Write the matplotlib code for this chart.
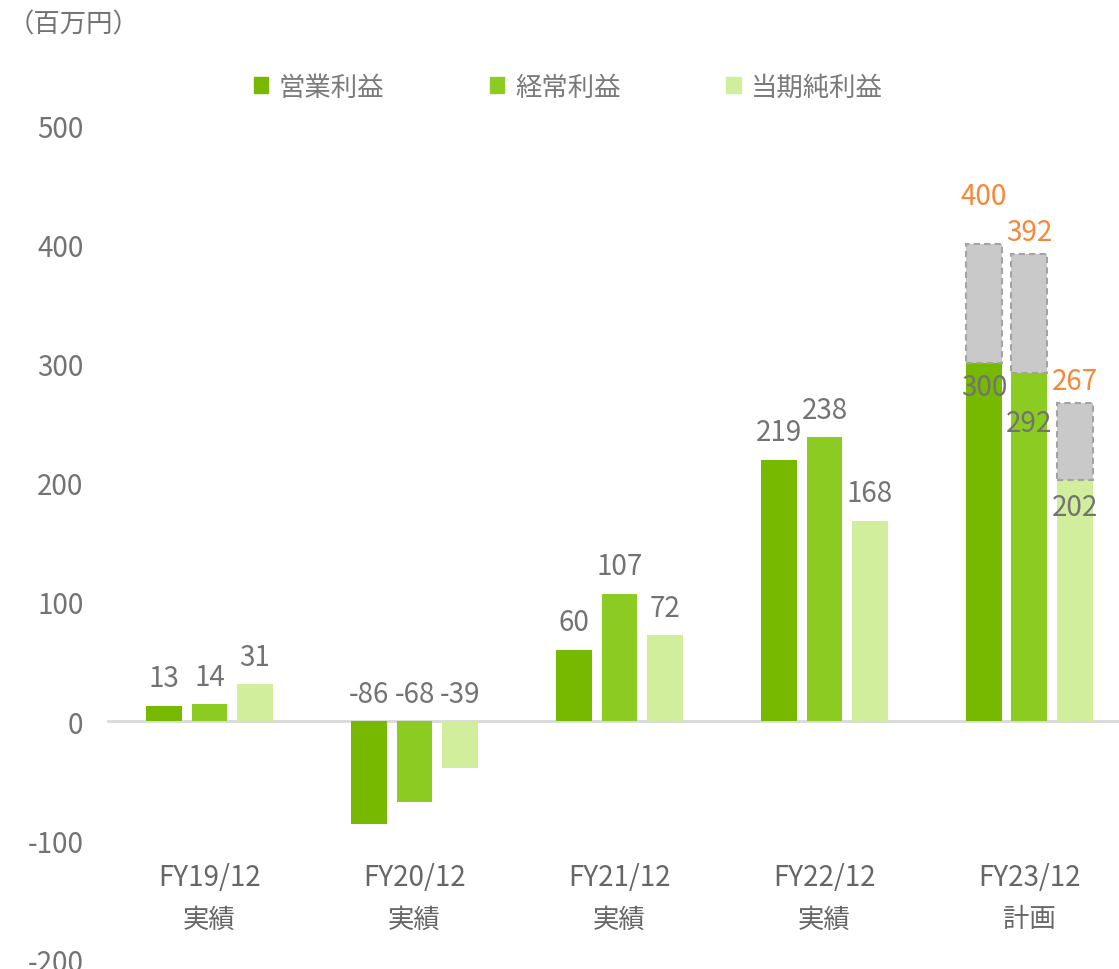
import numpy as np
import matplotlib
matplotlib.use("Agg")
import matplotlib.pyplot as plt
from matplotlib.patches import Patch

plt.rcParams['font.family'] = ['Noto Sans CJK JP', 'DejaVu Sans']
plt.rcParams['axes.unicode_minus'] = False

# ----------------------------
# Data
# ----------------------------
periods = ["FY19/12", "FY20/12", "FY21/12", "FY22/12", "FY23/12"]
kinds = ["実績", "実績", "実績", "実績", "計画"]
series_names = ["営業利益", "経常利益", "当期純利益"]

op_income = [13, -86, 60, 219, 300]
ord_income = [14, -68, 107, 238, 292]
net_income = [31, -39, 72, 168, 202]

# FY23 plan totals (gray dashed part sits on top of the green bar)
plan_total = [400, 392, 267]

colors = ["#76b900", "#8ccb22", "#d0ee9c"]
gray_fill = "#c9c9c9"
gray_edge = "#a3a3a3"
label_gray = "#737373"
orange = "#f7883a"

# ----------------------------
# Figure
# ----------------------------
fig = plt.figure(figsize=(11.19, 9.70), dpi=100)
ax = fig.add_axes([107 / 1119, 1 - 960.5 / 970, 1 - 107 / 1119, (960.5 - 126) / 970])

x = np.arange(len(periods))
w = 0.175
off = 0.222
series = [op_income, ord_income, net_income]

for i, vals in enumerate(series):
    ax.bar(x + (i - 1) * off, vals, width=w, color=colors[i], linewidth=0, zorder=2)

# plan boxes on FY23
last = len(periods) - 1
for i, vals in enumerate(series):
    base = vals[last]
    ax.bar(last + (i - 1) * off, plan_total[i] - base, bottom=base, width=w,
           color=gray_fill, edgecolor=gray_edge, linestyle=(0, (3, 2)),
           linewidth=1.5, zorder=2)

ax.axhline(0, color="#d9d9d9", lw=2, zorder=1)

# value labels (actuals)
for i, vals in enumerate(series):
    for j in range(last):
        v = vals[j]
        ax.annotate(str(v), (x[j] + (i - 1) * off, max(v, 0)),
                    xytext=(0, 9), textcoords="offset points",
                    ha="center", va="bottom", fontsize=20, color=label_gray)

# FY23 labels: base value inside bar, plan total in orange above
base_offsets = [-17, -36, -19]
plan_offsets = [24, 5, 5]
for i, vals in enumerate(series):
    bx = last + (i - 1) * off
    ax.annotate(str(vals[last]), (bx, vals[last]), xytext=(0, base_offsets[i]),
                textcoords="offset points", ha="center", va="center",
                fontsize=20, color=label_gray, zorder=3)
    ax.annotate(str(plan_total[i]), (bx, plan_total[i]), xytext=(0, plan_offsets[i]),
                textcoords="offset points", ha="center", va="bottom",
                fontsize=20, color=orange, zorder=3)

# category labels inside the plot area
for j in range(len(periods)):
    ax.text(x[j], -131, periods[j], ha="center", va="center", fontsize=20, color="#666666")
    ax.text(x[j], -166, kinds[j], ha="center", va="center", fontsize=19, color="#666666")

ax.set_xlim(-0.5, 4.437)
ax.set_ylim(-200, 500)
ax.set_yticks(np.arange(-200, 501, 100))
ax.set_xticks([])
ax.tick_params(axis="y", length=0, pad=17, labelsize=20, labelcolor="#737373")
for s in ax.spines.values():
    s.set_visible(False)

# legend
handles = [Patch(color=c, label=n) for c, n in zip(colors, series_names)]
fig.legend(handles=handles, loc="center", bbox_to_anchor=(0.508, 0.909), ncol=3,
           frameon=False, fontsize=19, labelcolor="#7a7a7a",
           handlelength=0.55, handleheight=0.55, handletextpad=0.4,
           columnspacing=4.0)

fig.text(8 / 1119, 1 - 25 / 970, "（百万円）", ha="left", va="center",
         fontsize=19, color="#737373")

fig.savefig("out.png", dpi=100)
